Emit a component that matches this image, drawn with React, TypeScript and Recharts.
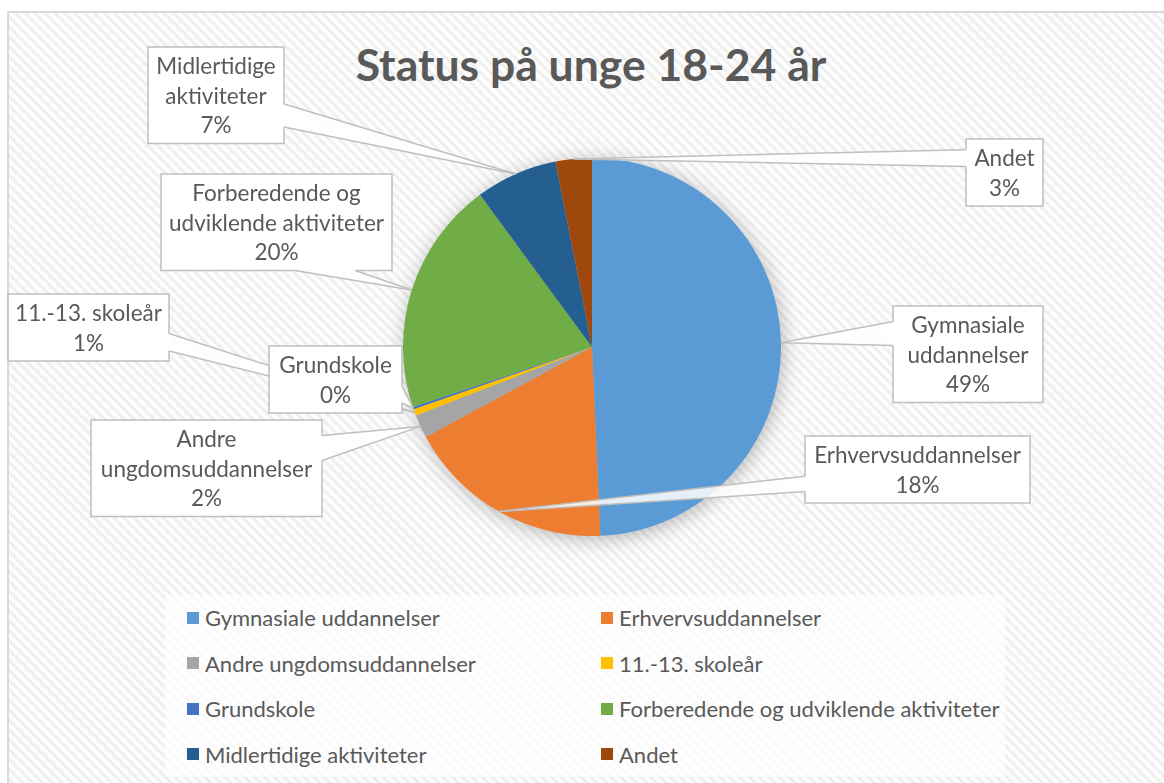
import React from 'react';
import { PieChart, Pie, Cell, Legend } from 'recharts';

// ---- data ----
const categories = [
  'Gymnasiale uddannelser',
  'Erhvervsuddannelser',
  'Andre ungdomsuddannelser',
  '11.-13. skoleår',
  'Grundskole',
  'Forberedende og udviklende aktiviteter',
  'Midlertidige aktiviteter',
  'Andet',
];
const shares = [49.3, 17.8, 2.0, 0.55, 0.2, 20.05, 7.0, 3.1];
const labelLines = [
  ['Gymnasiale', 'uddannelser'],
  ['Erhvervsuddannelser'],
  ['Andre', 'ungdomsuddannelser'],
  ['11.-13. skoleår'],
  ['Grundskole'],
  ['Forberedende og', 'udviklende aktiviteter'],
  ['Midlertidige', 'aktiviteter'],
  ['Andet'],
];
const chartTitle = 'Status på unge 18-24 år';

// ---- styles / layout ----
const colors = ['#5B9BD5', '#ED7D31', '#A5A5A5', '#FFC000', '#4472C4', '#70AD47', '#255E91', '#9E480E'];
const labelBoxes = [
  { x: 893, y: 306, w: 150, side: 'l', f0: 0.16, f1: 0.41 },
  { x: 805, y: 436, w: 225, side: 'l', f0: 0.6, f1: 0.83 },
  { x: 91, y: 420, w: 231, side: 'r', f0: 0.16, f1: 0.42 },
  { x: 8, y: 294, w: 161, side: 'r', f0: 0.59, f1: 0.85 },
  { x: 269, y: 346, w: 133, side: 'r', f0: 0.6, f1: 0.85 },
  { x: 161, y: 174, w: 231, side: 'b', f0: 0.58, f1: 0.84 },
  { x: 148, y: 47, w: 136, side: 'r', f0: 0.59, f1: 0.83 },
  { x: 966, y: 139, w: 77, side: 'l', f0: 0.16, f1: 0.41 },
];
const W = 1164;
const H = 783;
const LINE_H = 29.5;
const PAD = 4;
const FONT = 'Lato, "Open Sans", sans-serif';
const TEXT_COLOR = '#595959';
const BOX_STROKE = '#BFBFBF';
const RAD = Math.PI / 180;

const data = categories.map((name, i) => ({ name, value: shares[i] }));

function renderLabel(props: any) {
  const { cx, cy, midAngle, outerRadius, index, percent } = props;
  const b = labelBoxes[index];
  if (!b) return null;
  const tipX = cx + outerRadius * Math.cos(-midAngle * RAD);
  const tipY = cy + outerRadius * Math.sin(-midAngle * RAD);
  const lines = [...labelLines[index], `${Math.round(percent * 100)}%`];
  const h = lines.length * LINE_H + PAD * 2;
  let p0: number[];
  let p1: number[];
  if (b.side === 'l') {
    p0 = [b.x, b.y + h * b.f0];
    p1 = [b.x, b.y + h * b.f1];
  } else if (b.side === 'r') {
    p0 = [b.x + b.w, b.y + h * b.f0];
    p1 = [b.x + b.w, b.y + h * b.f1];
  } else {
    p0 = [b.x + b.w * b.f0, b.y + h];
    p1 = [b.x + b.w * b.f1, b.y + h];
  }
  return (
    <g key={`lbl-${index}`}>
      <rect x={b.x} y={b.y} width={b.w} height={h} fill="#ffffff" stroke={BOX_STROKE} strokeWidth={1.5} />
      <line x1={p0[0]} y1={p0[1]} x2={p1[0]} y2={p1[1]} stroke="#ffffff" strokeWidth={2.5} />
      <polygon
        points={`${p0[0]},${p0[1]} ${p1[0]},${p1[1]} ${tipX},${tipY}`}
        fill="#ffffff"
        fillOpacity={0.85}
        stroke="none"
      />
      <line x1={p0[0]} y1={p0[1]} x2={tipX} y2={tipY} stroke={BOX_STROKE} strokeWidth={1.5} />
      <line x1={p1[0]} y1={p1[1]} x2={tipX} y2={tipY} stroke={BOX_STROKE} strokeWidth={1.5} />
      <text fontFamily={FONT} fontSize={22.5} fill={TEXT_COLOR} textAnchor="middle">
        {lines.map((l, i) => (
          <tspan key={i} x={b.x + b.w / 2} y={b.y + PAD + LINE_H * (i + 0.5)} dominantBaseline="central">
            {l}
          </tspan>
        ))}
      </text>
    </g>
  );
}

function LegendContent(props: any) {
  const seen = new Set<string>();
  const items = (props.payload || [])
    .filter((p: any) => {
      if (p.type === 'none' || seen.has(p.value)) return false;
      seen.add(p.value);
      return true;
    })
    .sort((a: any, b: any) => categories.indexOf(a.value) - categories.indexOf(b.value));
  return (
    <div
      style={{
        display: 'grid',
        gridTemplateColumns: '414px 414px',
        gridAutoRows: '45.5px',
        paddingLeft: 22,
        paddingTop: 0,
        boxSizing: 'border-box',
        height: '100%',
      }}
    >
      {items.map((p: any, i: number) => (
        <div key={i} style={{ display: 'flex', alignItems: 'center', height: 45.5 }}>
          <span style={{ width: 12, height: 12, background: p.color, marginRight: 6, display: 'inline-block' }} />
          <span style={{ fontFamily: FONT, fontSize: 22, color: TEXT_COLOR, whiteSpace: 'nowrap' }}>{p.value}</span>
        </div>
      ))}
    </div>
  );
}

export default function App() {
  return (
    <div style={{ position: 'absolute', left: 0, top: 0, width: W, height: H, overflow: 'hidden', background: '#ffffff' }}>
      <style>{`.pie-shadow { filter: blur(7px); }`}</style>
      <svg width={W} height={H} style={{ position: 'absolute', left: 0, top: 0 }}>
        <defs>
          <pattern id="hatch" width="7" height="7" patternUnits="userSpaceOnUse" patternTransform="rotate(-45)">
            <rect width="7" height="7" fill="#fdfdfd" />
            <rect width="3" height="7" fill="#efefef" />
          </pattern>
        </defs>
        <rect x={8} y={12} width={W + 40} height={H + 40} fill="url(#hatch)" stroke="#D9D9D9" strokeWidth={2} />
      </svg>
      <div style={{ position: 'absolute', left: 0, top: 0 }}>
        <PieChart width={W} height={H} margin={{ top: 0, right: 0, bottom: 0, left: 0 }}>
          <text
            x={591}
            y={81}
            textAnchor="middle"
            fontFamily={FONT}
            fontWeight={700}
            fontSize={44.5}
            fill={TEXT_COLOR}
          >
            {chartTitle}
          </text>
          <Pie
            className="pie-shadow"
            data={data}
            dataKey="value"
            nameKey="name"
            cx={594}
            cy={350}
            outerRadius={189}
            startAngle={90}
            endAngle={-270}
            stroke="none"
            legendType="none"
            label={false}
            labelLine={false}
            isAnimationActive={false}
          >
            {data.map((d, i) => (
              <Cell key={i} fill="#000000" fillOpacity={0.28} />
            ))}
          </Pie>
          <Pie
            data={data}
            dataKey="value"
            nameKey="name"
            cx={592}
            cy={347}
            outerRadius={189}
            startAngle={90}
            endAngle={-270}
            stroke="none"
            label={renderLabel}
            labelLine={false}
            isAnimationActive={false}
          >
            {data.map((d, i) => (
              <Cell key={i} fill={colors[i]} />
            ))}
          </Pie>
          <Legend
            layout="horizontal"
            verticalAlign="middle"
            align="center"
            itemSorter={null as any}
            content={<LegendContent />}
            wrapperStyle={{ left: 165, top: 595, width: 840, height: 182, background: 'rgba(255,255,255,0.65)' }}
          />
        </PieChart>
      </div>
    </div>
  );
}
